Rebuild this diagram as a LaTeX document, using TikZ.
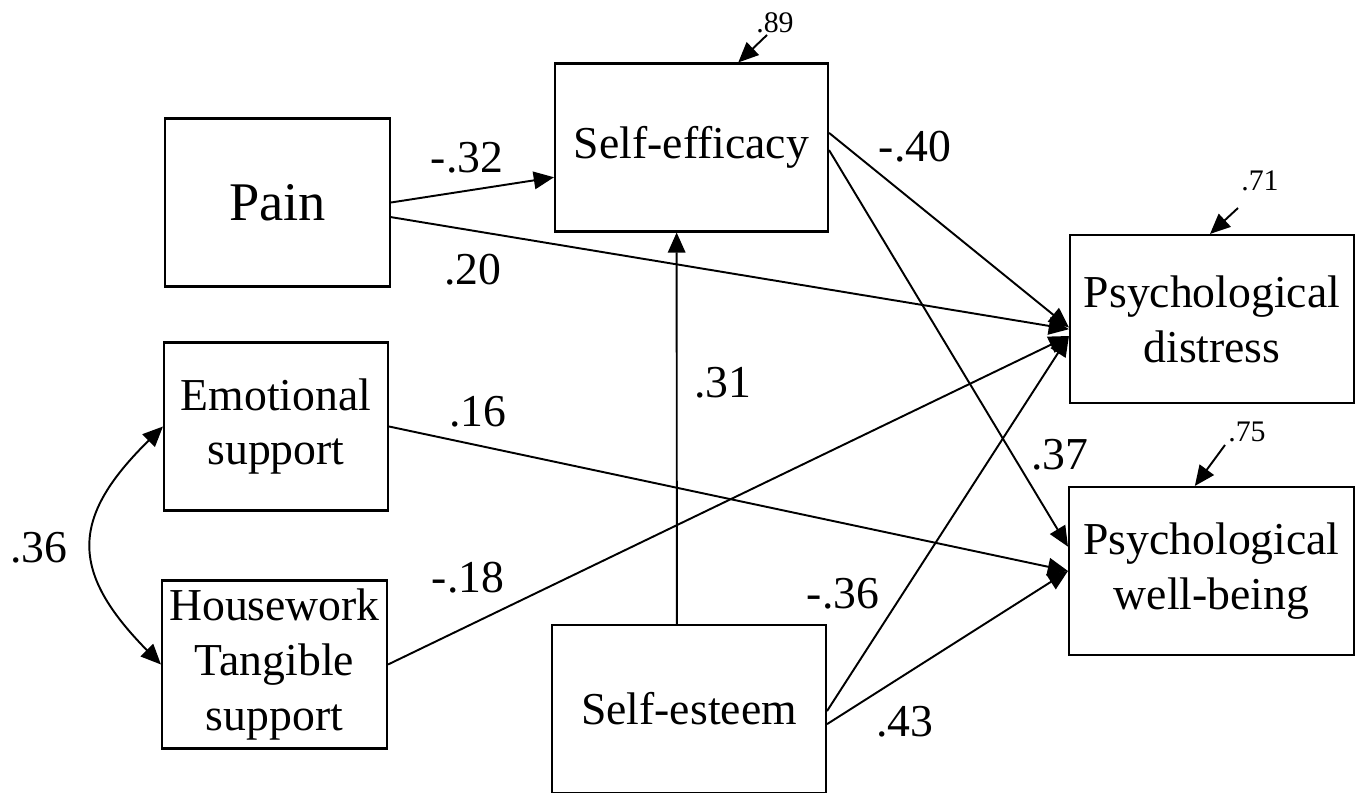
\documentclass[tikz,border=0pt]{standalone}
\usepackage{fontspec}
\setmainfont{Liberation Serif}
\usetikzlibrary{positioning,calc,arrows.meta}
\tikzset{
	box/.style={draw, rectangle, line width=1.2pt, minimum height=3.36cm, align=center, inner sep=0pt, font=\fontsize{26}{31.2}\selectfont},
	rel/.style={draw, line width=1.1pt, ->},
	lbl/.style={font=\fontsize{26}{31}\selectfont, inner sep=0pt},
	small/.style={font=\fontsize{17}{19}\selectfont, inner sep=0pt}
}
\newcommand{\mybox}[5][]{
	\node [box, minimum width=#4] (#1) at (#2, #3) {#5};
}
\newcommand{\wrelation}[4][]
{
	% the weight is put where the figure has it, not midway
	\path [rel] (#2) -- (#3) node[lbl] at (#4) {#1};
}

\begin{document}
\begin{tikzpicture}[x=0.02cm, y=-0.02cm, >={Triangle[length=11.5pt, width=10pt]}]
		\useasboundingbox (0,0) rectangle (1363,793);
		\mybox[pain]{277.5}{202.5}{4.5cm}{\fontsize{31}{36}\selectfont Pain}
		\mybox[eff]{691.5}{147.5}{5.46cm}{Self-efficacy}
		\mybox[dist]{1212}{319}{5.68cm}{Psychological\\distress}
		\mybox[well]{1211.5}{571}{5.7cm}{Psychological\\well-being}
		\mybox[emo]{276}{426.5}{4.48cm}{Emotional\\support}
		\mybox[house]{274.5}{664.5}{4.5cm}{Housework\\Tangible\\support}
		\mybox[esteem]{689}{709}{5.48cm}{Self-esteem}
		
		\wrelation[-.32]{pain.east}{$(eff.north west)!0.675!(eff.south west)$}{467,158}
		\wrelation[.20]{$(pain.north east)!0.586!(pain.south east)$}{$(dist.north west)!0.56!(dist.south west)$}{473,270}
		\wrelation[-.40]{$(eff.north east)!0.414!(eff.south east)$}{$(dist.north west)!0.55!(dist.south west)$}{915,147}
		\wrelation[.37]{$(eff.north east)!0.515!(eff.south east)$}{$(well.north west)!0.357!(well.south west)$}{1060,455}
		\wrelation[.16]{emo.east}{well.west}{478,412}
		\wrelation[-.18]{house.east}{$(dist.north west)!0.6!(dist.south west)$}{468,578}
		\wrelation[.31]{$(esteem.north west)!0.456!(esteem.north east)$}{$(eff.south west)!0.446!(eff.south east)$}{723,383}
		\wrelation[-.36]{$(esteem.north east)!0.512!(esteem.south east)$}{$(dist.north west)!0.6!(dist.south west)$}{843,594}
		\wrelation[.43]{$(esteem.north east)!0.589!(esteem.south east)$}{well.west}{905,722}
		
		% correlation between the two supports
		\draw [line width=1.1pt, <->] (emo.west) to[bend right=45, looseness=1.4] (house.west);
		\node [lbl] (cov) at (39,548) {.36};
		
		% residuals
		\node [small] (r89) at (775,23) {.89};
		\node [small] (r71) at (1260,181) {.71};
		\node [small] (r75) at (1247,432) {.75};
		\coordinate (e89) at (767,35);
		\coordinate (e71) at (1238,208);
		\coordinate (e75) at (1225,445);
		\draw [line width=1.1pt, ->] (e89) -- ($(eff.north west)!0.67!(eff.north east)$);
		\draw [line width=1.1pt, ->] (e71) -- ($(dist.north west)!0.493!(dist.north east)$);
		\draw [line width=1.1pt, ->] (e75) -- ($(well.north west)!0.442!(well.north east)$);
		\end{tikzpicture}
\end{document}
